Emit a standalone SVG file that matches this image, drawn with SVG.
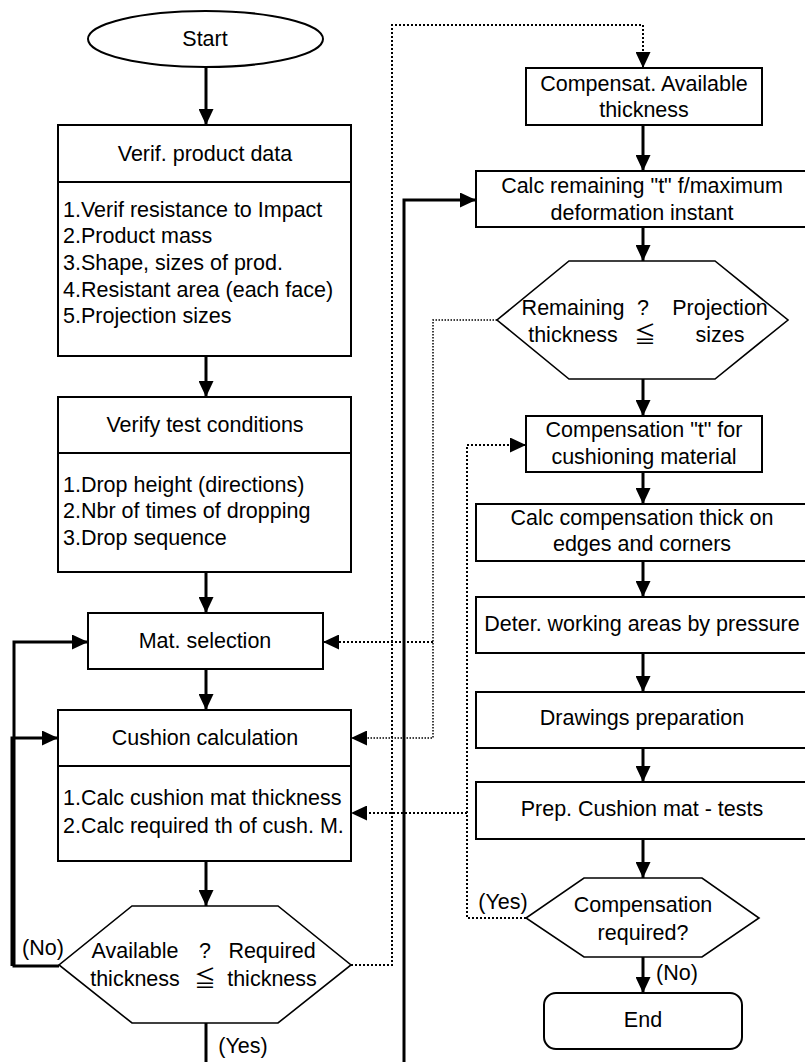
<svg xmlns="http://www.w3.org/2000/svg" width="805" height="1062" viewBox="0 0 805 1062">
  <style>
    text { font-family: "Liberation Sans", Arial, "Noto Sans CJK JP", sans-serif; font-size: 21.5px; fill: #000; }
    .c { text-anchor: middle; }
    .box { fill: #fff; stroke: #000; stroke-width: 2; }
    .dec { fill: #fff; stroke: #000; stroke-width: 1.6; }
    .div { stroke: #000; stroke-width: 2; }
    .flow { fill: none; stroke: #000; stroke-width: 3; }
    .dot { fill: none; stroke: #000; stroke-width: 2; stroke-dasharray: 2 2; }
    .dotthin { fill: none; stroke: #000; stroke-width: 1.5; stroke-dasharray: 1.5 1.5; }
  </style>
  <defs>
    <marker id="arrow" viewBox="0 0 16 15" refX="16" refY="7.5" markerWidth="16" markerHeight="15" orient="auto" markerUnits="userSpaceOnUse">
      <path d="M0,0 L16,7.5 L0,15 z" fill="#000"/>
    </marker>
  </defs>
  <rect x="0" y="0" width="805" height="1062" fill="#fff"/>

  <!-- connectors -->
  <g id="connectors">
    <line class="flow" x1="206" y1="67" x2="206" y2="125" marker-end="url(#arrow)"/>
    <line class="flow" x1="206" y1="356" x2="206" y2="397" marker-end="url(#arrow)"/>
    <line class="flow" x1="206" y1="572" x2="206" y2="613" marker-end="url(#arrow)"/>
    <line class="flow" x1="206" y1="669" x2="206" y2="710" marker-end="url(#arrow)"/>
    <line class="flow" x1="206" y1="861" x2="206" y2="906" marker-end="url(#arrow)"/>
    <line class="flow" x1="206" y1="1023" x2="206" y2="1062"/>
    <path class="flow" d="M59,966 H14 V642 H88" marker-end="url(#arrow)"/>
    <path class="flow" d="M12,966 V738 H58" marker-end="url(#arrow)"/>
    <path class="flow" d="M404,1062 V200 H476" marker-end="url(#arrow)"/>

    <line class="flow" x1="643" y1="125" x2="643" y2="171" marker-end="url(#arrow)"/>
    <line class="flow" x1="643" y1="227" x2="643" y2="261" marker-end="url(#arrow)"/>
    <line class="flow" x1="643" y1="379" x2="643" y2="416" marker-end="url(#arrow)"/>
    <line class="flow" x1="643" y1="472" x2="643" y2="504" marker-end="url(#arrow)"/>
    <line class="flow" x1="643" y1="561" x2="643" y2="597" marker-end="url(#arrow)"/>
    <line class="flow" x1="643" y1="653" x2="643" y2="692" marker-end="url(#arrow)"/>
    <line class="flow" x1="643" y1="748" x2="643" y2="782" marker-end="url(#arrow)"/>
    <line class="flow" x1="643" y1="839" x2="643" y2="878" marker-end="url(#arrow)"/>
    <line class="flow" x1="643" y1="957" x2="643" y2="993" marker-end="url(#arrow)"/>

    <path class="dot" d="M351,965 H392 V25 H643 V68" marker-end="url(#arrow)"/>
    <path class="dotthin" d="M497,320 H433 V738 H351" marker-end="url(#arrow)"/>
    <path class="dot" d="M433,642 H323" marker-end="url(#arrow)"/>
    <path class="dot" d="M526,918 H467 V445 H526" marker-end="url(#arrow)"/>
    <path class="dot" d="M467,813 H351" marker-end="url(#arrow)"/>

    <text class="c" x="43" y="955">(No)</text>
    <text class="c" x="243" y="1053">(Yes)</text>
    <text class="c" x="503" y="909">(Yes)</text>
    <text class="c" x="677" y="980">(No)</text>
  </g>

  <!-- left column -->
  <g id="start">
    <ellipse class="box" cx="205.5" cy="39" rx="117.5" ry="28"/>
    <text class="c" x="205" y="46">Start</text>
  </g>
  <g id="verif-product">
    <rect class="box" x="58" y="125" width="293" height="231"/>
    <line class="div" x1="58" y1="182" x2="351" y2="182"/>
    <text class="c" x="205" y="161">Verif. product data</text>
    <text x="63" y="217">1.Verif resistance to Impact</text>
    <text x="63" y="243">2.Product mass</text>
    <text x="63" y="270">3.Shape, sizes of prod.</text>
    <text x="63" y="297">4.Resistant area (each face)</text>
    <text x="63" y="323">5.Projection sizes</text>
  </g>
  <g id="verify-test">
    <rect class="box" x="58" y="397" width="293" height="175"/>
    <line class="div" x1="58" y1="453" x2="351" y2="453"/>
    <text class="c" x="205" y="432">Verify test conditions</text>
    <text x="63" y="492">1.Drop height (directions)</text>
    <text x="63" y="518">2.Nbr of times of dropping</text>
    <text x="63" y="545">3.Drop sequence</text>
  </g>
  <g id="mat-selection">
    <rect class="box" x="88" y="613" width="235" height="56"/>
    <text class="c" x="205" y="648">Mat. selection</text>
  </g>
  <g id="cushion-calc">
    <rect class="box" x="58" y="710" width="293" height="151"/>
    <line class="div" x1="58" y1="766" x2="351" y2="766"/>
    <text class="c" x="205" y="745">Cushion calculation</text>
    <text x="63" y="805">1.Calc cushion mat thickness</text>
    <text x="63" y="833">2.Calc required th of cush. M.</text>
  </g>
  <g id="check-thickness">
    <polygon class="dec" points="132,906 278,906 351,965 278,1023 132,1023 59,965"/>
    <text class="c" x="135" y="958">Available</text>
    <text class="c" x="205" y="958">?</text>
    <text class="c" x="272" y="958">Required</text>
    <text class="c" x="135" y="986">thickness</text>
    <text class="c" x="205" y="986">≦</text>
    <text class="c" x="272" y="986">thickness</text>
  </g>

  <!-- right column -->
  <g id="compensat-available">
    <rect class="box" x="526" y="68" width="236" height="57"/>
    <text class="c" x="644" y="91">Compensat. Available</text>
    <text class="c" x="644" y="117">thickness</text>
  </g>
  <g id="calc-remaining">
    <rect class="box" x="476" y="171" width="334" height="56"/>
    <text class="c" x="642" y="193">Calc remaining "t" f/maximum</text>
    <text class="c" x="642" y="220">deformation instant</text>
  </g>
  <g id="check-projection">
    <polygon class="dec" points="569,261 715,261 788,320 715,379 569,379 497,320"/>
    <text class="c" x="573" y="315">Remaining</text>
    <text class="c" x="643" y="315">?</text>
    <text class="c" x="720" y="315">Projection</text>
    <text class="c" x="573" y="342">thickness</text>
    <text class="c" x="645" y="342">≦</text>
    <text class="c" x="720" y="342">sizes</text>
  </g>
  <g id="compensation-t">
    <rect class="box" x="526" y="416" width="236" height="56"/>
    <text class="c" x="644" y="437">Compensation "t" for</text>
    <text class="c" x="644" y="464">cushioning material</text>
  </g>
  <g id="calc-compensation">
    <rect class="box" x="476" y="504" width="334" height="57"/>
    <text class="c" x="642" y="525">Calc compensation thick on</text>
    <text class="c" x="642" y="551">edges and corners</text>
  </g>
  <g id="working-areas">
    <rect class="box" x="476" y="597" width="334" height="56"/>
    <text class="c" x="642" y="631">Deter. working areas by pressure</text>
  </g>
  <g id="drawings">
    <rect class="box" x="476" y="692" width="334" height="56"/>
    <text class="c" x="642" y="725">Drawings preparation</text>
  </g>
  <g id="prep-tests">
    <rect class="box" x="476" y="782" width="334" height="57"/>
    <text class="c" x="642" y="816">Prep. Cushion mat - tests</text>
  </g>
  <g id="compensation-required">
    <polygon class="dec" points="584,878 702,878 759,918 702,957 584,957 526,918"/>
    <text class="c" x="643" y="912">Compensation</text>
    <text class="c" x="643" y="940">required?</text>
  </g>
  <g id="end">
    <rect class="box" x="544" y="993" width="198" height="56" rx="12" ry="12"/>
    <text class="c" x="643" y="1027">End</text>
  </g>
</svg>
